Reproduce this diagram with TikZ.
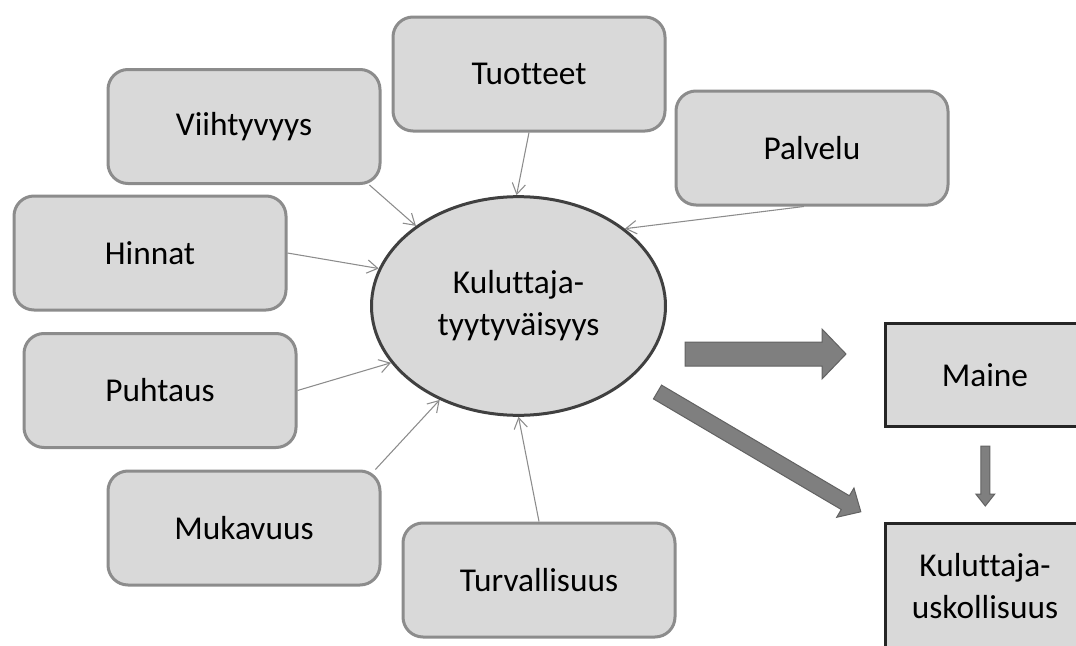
\documentclass[tikz,border=0pt]{standalone}
\usepackage{fontspec}
\setmainfont[Ligatures={NoCommon,NoContextual,NoRequired}]{Carlito}
\usepackage{tikz}
\usetikzlibrary{arrows.meta,shapes.geometric}
\definecolor{boxfill}{HTML}{D9D9D9}
\definecolor{boxline}{HTML}{8C8C8C}
\definecolor{hubline}{HTML}{404040}
\definecolor{fatfill}{HTML}{7F7F7F}
\definecolor{fatline}{HTML}{626262}
\newcommand{\bigtxt}{\fontsize{25}{31.5}\selectfont}

\begin{document}
\begin{tikzpicture}[x=0.75pt,y=-0.75pt,
  factor/.style={draw=boxline,fill=boxfill,line width=2.25pt,rounded corners=15pt,minimum width=204pt,minimum height=85.5pt,inner sep=0pt,font=\bigtxt},
  hub/.style={ellipse,draw=hubline,fill=boxfill,line width=2.25pt,minimum width=220.5pt,minimum height=164pt,inner sep=0pt,align=center,font=\bigtxt},
  outcome/.style={draw=black!85,fill=boxfill,line width=2.25pt,minimum width=150pt,inner sep=0pt,align=center,font=\bigtxt},
  feed/.style={draw=boxline,line width=0.8pt,-{Straight Barb[length=8pt,width=10pt]}},
  fat/.style={draw=fatline,fill=fatfill,line width=0.75pt,line join=miter}]
  \useasboundingbox (0,0) rectangle (1076,646);
  \clip (0,0) rectangle (1076,646);
  % factors round the hub
  \node[factor] (viih) at (244,126.5) {Viihtyvyys};
  \node[factor] (tuot) at (529,74) {Tuotteet};
  \node[factor] (palv) at (812,148) {Palvelu};
  \node[factor] (hinn) at (150,253) {Hinnat};
  \node[factor] (puht) at (160,390.5) {Puhtaus};
  \node[factor] (muka) at (244,528) {Mukavuus};
  \node[factor] (turv) at (539,580) {Turvallisuus};
  \node[hub] (hub) at (518.5,306) {Kuluttaja-\\tyytyväisyys};
  % outcomes
  \node[outcome,minimum height=77.25pt] (maine) at (985,375) {Maine};
  \node[outcome,minimum height=93.75pt] (usko) at (985,586) {Kuluttaja-\\uskollisuus};
  % thin arrows into the hub
  \draw[feed] (viih.-25) -- (hub.142.7);
  \draw[feed] (tuot.south) -- (hub.91);
  \draw[feed] (palv.-98.7) -- (hub.36.3);
  \draw[feed] (hinn.east) -- (hub.165.9);
  \draw[feed] (puht.east) -- (hub.204.1);
  \draw[feed] (muka.24.7) -- (hub.230.3);
  \draw[feed] (turv.north) -- (hub.-90);
  % block arrows
  \begin{scope}[shift={(685,354)}]
    \draw[fat] (0,-12) -- (137,-12) -- (137,-25) -- (161,0) -- (137,25) -- (137,12) -- (0,12) -- cycle;
  \end{scope}
  \begin{scope}[shift={(657.5,392)},rotate=-30.5]
    \draw[fat] (0,-8) -- (218,-8) -- (218,-17) -- (236,0) -- (218,17) -- (218,8) -- (0,8) -- cycle;
  \end{scope}
  \begin{scope}[shift={(985.3,446)},rotate=-90]
    \draw[fat] (0,-4.5) -- (48,-4.5) -- (48,-9.5) -- (60,0) -- (48,9.5) -- (48,4.5) -- (0,4.5) -- cycle;
  \end{scope}
\end{tikzpicture}
\end{document}
